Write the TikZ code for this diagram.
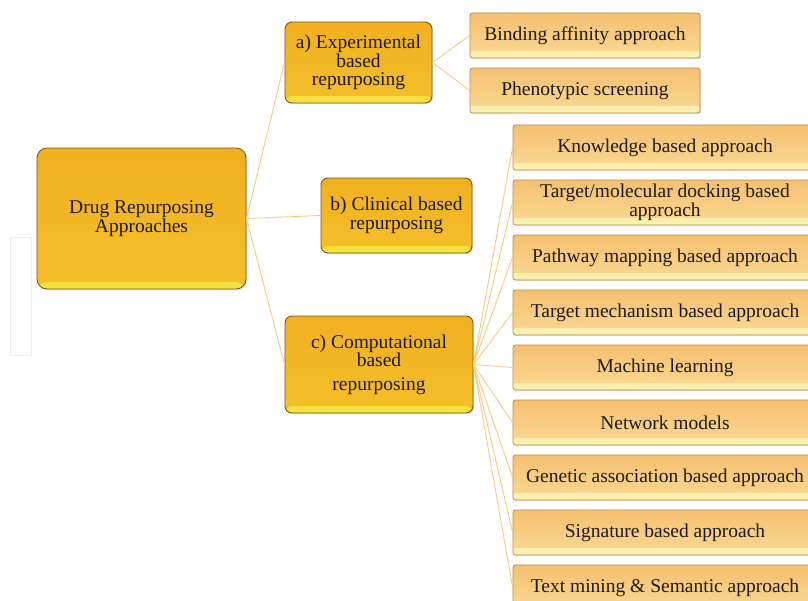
\documentclass[tikz,border=0pt]{standalone}
\usepackage{fontspec}
\setmainfont{Liberation Serif}
\usetikzlibrary{shadows}
\definecolor{goldtop}{HTML}{F0B020}
\definecolor{goldbot}{HTML}{F5BE2A}
\definecolor{goldstrip}{HTML}{F6E23E}
\definecolor{goldedge}{HTML}{7A5A1C}
\definecolor{leaftop}{HTML}{F5C070}
\definecolor{leafbot}{HTML}{FAD994}
\definecolor{leafstrip}{HTML}{FBF0B0}
\definecolor{leafedge}{HTML}{B98E4E}
\definecolor{linkcol}{HTML}{F3CD85}
\definecolor{txt}{HTML}{1E1A14}
\begin{document}
\begin{tikzpicture}[x=1pt,y=-1pt,
  mainbox/.style={draw=goldedge, line width=0.9pt, rounded corners=7pt,
    top color=goldtop, bottom color=goldbot, align=center, inner sep=0pt,
    text=txt, font=\fontsize{19.5}{18.5}\selectfont,
    drop shadow={shadow xshift=1.2pt, shadow yshift=-1.2pt, opacity=0.25},
    path picture={\fill[goldstrip] ([yshift=-1pt]path picture bounding box.south west) rectangle ([yshift=7pt]path picture bounding box.south east);}},
  leafbox/.style={draw=leafedge, line width=0.8pt, rounded corners=2.5pt,
    top color=leaftop, bottom color=leafbot, align=center, inner sep=0pt,
    text=txt, font=\fontsize{19.5}{19}\selectfont,
    drop shadow={shadow xshift=1.2pt, shadow yshift=-1.2pt, opacity=0.2},
    path picture={\fill[leafstrip] ([yshift=-1pt]path picture bounding box.south west) rectangle ([yshift=7pt]path picture bounding box.south east);}},
  link/.style={draw=linkcol, line width=0.9pt}]
\useasboundingbox (0,0) rectangle (808,600);
\clip (0,0) rectangle (808,600);
\fill[white] (0,0) rectangle (808,600);
% faint frame at left
\draw[draw=black!7, line width=0.8pt] (10,237) rectangle (31,355);

% main boxes
\node[mainbox, minimum width=209pt, minimum height=141pt, rounded corners=10pt] (root) at (141.5,218.5) {Drug Repurposing\\Approaches};
\node[mainbox, minimum width=147pt, minimum height=81pt] (a) at (358.5,62.5) {a) Experimental\\based\\repurposing};
\node[mainbox, minimum width=151pt, minimum height=75pt] (b) at (396.5,215.5) {b) Clinical based\\repurposing};
\node[mainbox, minimum width=188pt, minimum height=97pt] (c) at (379,364.5) {c) Computational\\based\\[5pt]repurposing};

% leaves of a
\node[leafbox, minimum width=230pt, minimum height=45pt] (a1) at (585,35.5) {Binding affinity approach};
\node[leafbox, minimum width=230pt, minimum height=45pt] (a2) at (585,90.5) {Phenotypic screening};

% leaves of c
\begin{scope}[every node/.append style={leafbox, minimum width=304pt, minimum height=45pt}]
\node (c1) at (665,147.5) {Knowledge based approach};
\node (c2) at (665,202.5) {Target/molecular docking based\\approach};
\node (c3) at (665,257.5) {Pathway mapping based approach};
\node (c4) at (665,312.5) {Target mechanism based approach};
\node (c5) at (665,367.5) {Machine learning};
\node (c6) at (665,422.5) {Network models};
\node (c7) at (665,477.5) {Genetic association based approach};
\node (c8) at (665,532.5) {Signature based approach};
\node (c9) at (665,587.5) {Text mining \& Semantic approach};
\end{scope}

% connectors
\path[link] (root.east) -- (a.west);
\path[link] (root.east) -- (b.west);
\path[link] (root.east) -- (c.west);
\path[link] (a.east) -- (a1.west);
\path[link] (a.east) -- (a2.west);
\foreach \i in {1,...,9} {\path[link] (c.east) -- (c\i.west);}
\end{tikzpicture}
\end{document}
